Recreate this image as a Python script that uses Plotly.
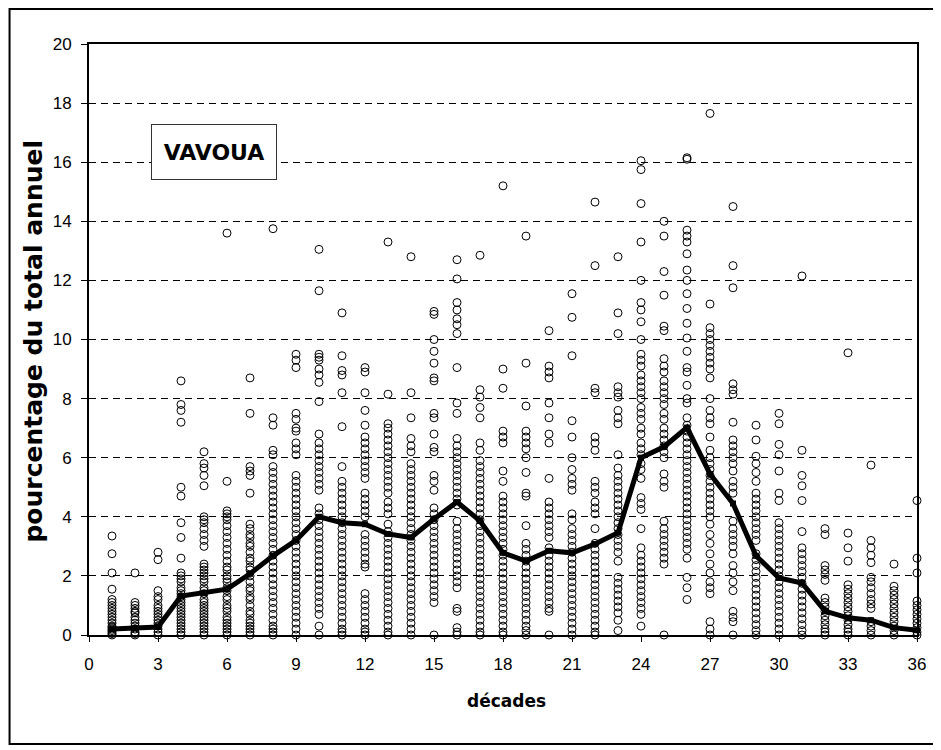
import plotly.graph_objects as go

# values per decade (percentage of annual total)
d01 = [3.35, 2.75, 2.1, 1.55, 1.2, 1.1, 1.0, 0.9, 0.8, 0.7, 0.6, 0.5, 0.4, 0.3, 0.25, 0.2, 0.15, 0.1, 0.05, 0]
d02 = [2.1, 1.1, 1.0, 0.9, 0.8, 0.75, 0.6, 0.5, 0.4, 0.3, 0.2, 0.1, 0.05, 0]
d03 = [2.8, 2.55, 1.5, 1.3, 1.2, 1.0, 0.9, 0.8, 0.7, 0.6, 0.5, 0.4, 0.3, 0.2, 0.1, 0]
d04 = [8.6, 7.8, 7.6, 7.2, 5.0, 4.7, 3.8, 3.3, 2.6, 2.1, 2.0, 1.9, 1.8, 1.6, 1.5, 1.4, 1.3, 1.2, 1.1, 1.0, 0.9, 0.8, 0.7, 0.6, 0.5, 0.4, 0.3, 0.2, 0.1, 0]
d05 = [6.2, 5.8, 5.65, 5.4, 5.05, 4.0, 3.9, 3.8, 3.6, 3.4, 3.2, 3.0, 2.4, 2.3, 2.2, 2.1, 2.0, 1.9, 1.8, 1.6, 1.5, 1.4, 1.2, 1.1, 1.0, 0.9, 0.8, 0.7, 0.6, 0.5, 0.4, 0.3, 0.2, 0.1, 0.0]
d06 = [13.6, 5.2, 4.2, 4.1, 4.0, 3.9, 3.7, 3.5, 3.3, 3.1, 2.9, 2.7, 2.5, 2.3, 2.2, 2.0, 1.9, 1.8, 1.6, 1.5, 1.3, 1.2, 1.0, 0.9, 0.8, 0.6, 0.5, 0.4, 0.3, 0.2, 0.1, 0]
d07 = [8.7, 7.5, 5.7, 5.55, 5.4, 4.8, 3.75, 3.6, 3.4, 3.3, 3.1, 3.0, 2.8, 2.6, 2.5, 2.3, 2.2, 2.0, 1.8, 1.6, 1.5, 1.3, 1.2, 1.0, 0.8, 0.7, 0.5, 0.4, 0.3, 0.2, 0.1, 0]
d08 = [13.75, 7.35, 7.1, 6.25, 6.1, 5.7, 5.5, 5.3, 5.1, 4.9, 4.7, 4.5, 4.3, 4.1, 3.9, 3.7, 3.5, 3.3, 3.1, 2.9, 2.7, 2.5, 2.3, 2.1, 1.9, 1.7, 1.5, 1.3, 1.1, 0.9, 0.7, 0.5, 0.3, 0.2, 0.1, 0]
d09 = [9.5, 9.3, 9.05, 7.5, 7.3, 7.0, 6.9, 6.5, 6.3, 6.1, 5.4, 5.2, 5.0, 4.8, 4.6, 4.4, 4.2, 4.0, 3.8, 3.6, 3.4, 3.2, 3.0, 2.8, 2.6, 2.4, 2.2, 2.0, 1.8, 1.6, 1.4, 1.2, 1.0, 0.8, 0.6, 0.4, 0.2, 0]
d10 = [13.05, 11.65, 9.5, 9.4, 9.3, 9.0, 8.8, 8.55, 7.9, 6.8, 6.5, 6.3, 6.1, 5.9, 5.7, 5.5, 5.3, 5.1, 4.9, 4.3, 4.1, 3.9, 3.7, 3.5, 3.3, 3.1, 2.9, 2.7, 2.5, 2.3, 2.1, 1.9, 1.7, 1.5, 1.3, 1.1, 0.9, 0.7, 0.3, 0]
d11 = [10.9, 9.45, 8.95, 8.8, 8.2, 7.05, 5.7, 5.2, 5.0, 4.8, 4.6, 4.4, 4.2, 4.0, 3.8, 3.6, 3.4, 3.2, 3.0, 2.8, 2.6, 2.4, 2.2, 2.0, 1.8, 1.6, 1.4, 1.2, 1.0, 0.8, 0.6, 0.4, 0.2, 0.1, 0]
d12 = [9.05, 8.9, 8.2, 7.6, 7.1, 6.7, 6.5, 6.3, 6.1, 5.9, 5.7, 5.5, 5.3, 4.8, 4.6, 4.4, 4.2, 4.0, 3.4, 3.2, 3.0, 2.8, 2.6, 2.4, 2.3, 1.4, 1.2, 1.0, 0.8, 0.6, 0.4, 0.2, 0.1, 0]
d13 = [13.3, 8.15, 7.15, 7.0, 6.8, 6.6, 6.4, 6.2, 6.0, 5.8, 5.6, 5.4, 5.2, 5.0, 4.8, 4.5, 4.3, 4.1, 3.75, 3.5, 3.3, 3.1, 2.9, 2.7, 2.5, 2.3, 2.1, 1.9, 1.7, 1.5, 1.3, 1.1, 0.9, 0.7, 0.5, 0.3, 0.1, 0]
d14 = [12.8, 8.2, 7.35, 6.65, 6.4, 6.2, 5.8, 5.6, 5.4, 5.2, 5.0, 4.8, 4.6, 4.4, 4.2, 4.0, 3.8, 3.6, 3.4, 3.2, 3.0, 2.8, 2.6, 2.4, 2.2, 2.0, 1.8, 1.6, 1.4, 1.2, 1.0, 0.8, 0.6, 0.4, 0.2, 0]
d15 = [10.95, 10.85, 10.0, 9.6, 9.2, 8.7, 8.6, 7.5, 7.35, 6.8, 6.35, 6.2, 5.4, 5.2, 4.9, 4.3, 4.1, 3.9, 3.7, 3.5, 3.3, 3.1, 2.9, 2.7, 2.5, 2.3, 2.1, 1.9, 1.7, 1.5, 1.3, 1.1, 0]
d16 = [12.7, 12.05, 11.25, 11.0, 10.7, 10.5, 10.2, 9.05, 7.85, 7.5, 6.65, 6.4, 6.2, 6.0, 5.8, 5.6, 5.4, 5.2, 5.0, 4.8, 4.6, 4.4, 3.85, 3.6, 3.4, 3.2, 3.0, 2.8, 2.6, 2.4, 2.2, 2.0, 1.8, 1.6, 0.9, 0.8, 0.25, 0.1, 0]
d17 = [12.85, 8.3, 8.05, 7.7, 7.35, 6.5, 6.25, 5.9, 5.7, 5.5, 5.3, 5.1, 4.9, 4.7, 4.5, 4.3, 4.1, 3.9, 3.7, 3.5, 3.3, 3.1, 2.9, 2.7, 2.5, 2.3, 2.1, 1.9, 1.7, 1.5, 1.3, 1.1, 0.9, 0.7, 0.5, 0.3, 0.1, 0]
d18 = [15.2, 9.0, 8.35, 6.9, 6.7, 6.5, 5.55, 5.2, 4.7, 4.5, 4.3, 4.1, 3.9, 3.7, 3.5, 3.3, 3.1, 2.9, 2.7, 2.5, 2.3, 2.1, 1.9, 1.7, 1.5, 1.3, 1.1, 0.9, 0.7, 0.5, 0.3, 0.1, 0]
d19 = [13.5, 9.2, 7.75, 6.9, 6.7, 6.5, 6.3, 6.0, 5.5, 4.8, 4.7, 3.7, 3.1, 2.9, 2.7, 2.5, 2.3, 2.1, 1.9, 1.7, 1.5, 1.3, 1.1, 0.9, 0.7, 0.5, 0.3, 0.15, 0]
d20 = [10.3, 9.1, 8.9, 8.7, 7.85, 7.35, 6.8, 6.5, 5.3, 4.5, 4.3, 4.1, 3.9, 3.7, 3.5, 3.3, 2.95, 2.7, 2.5, 2.3, 2.1, 1.9, 1.7, 1.5, 1.3, 1.1, 0.9, 0.8, 0]
d21 = [11.55, 10.75, 9.45, 7.25, 6.7, 6.0, 5.6, 5.3, 5.1, 4.9, 4.1, 3.9, 3.6, 3.4, 3.2, 3.0, 2.8, 2.6, 2.4, 2.2, 2.0, 1.8, 1.6, 1.4, 1.2, 1.0, 0.8, 0.6, 0.4, 0.2, 0]
d22 = [14.65, 12.5, 8.35, 8.2, 6.7, 6.5, 6.25, 5.2, 5.0, 4.8, 4.5, 4.3, 4.1, 3.6, 3.1, 2.9, 2.7, 2.5, 2.3, 2.1, 1.9, 1.7, 1.5, 1.3, 1.1, 0.9, 0.7, 0.5, 0.3, 0.1, 0]
d23 = [12.8, 10.9, 10.2, 8.4, 8.2, 8.05, 7.6, 7.35, 7.15, 6.1, 5.65, 5.4, 5.2, 5.0, 4.8, 4.6, 4.4, 4.2, 4.0, 3.8, 3.6, 3.4, 3.2, 3.0, 2.8, 2.5, 1.95, 1.75, 1.55, 1.35, 1.15, 0.95, 0.75, 0.5, 0.15]
d24 = [16.05, 15.75, 14.6, 13.3, 12.0, 11.25, 11.0, 10.6, 10.0, 9.5, 9.3, 9.1, 8.8, 8.6, 8.4, 8.2, 8.0, 7.7, 7.5, 7.3, 7.0, 6.8, 6.5, 6.3, 6.1, 5.8, 5.6, 5.3, 4.65, 4.45, 4.25, 3.6, 2.95, 2.7, 2.5, 2.3, 2.1, 1.9, 1.7, 1.5, 1.3, 1.1, 0.9, 0.7, 0.3]
d25 = [14.0, 13.5, 12.3, 11.5, 10.45, 10.3, 9.35, 9.1, 8.9, 8.6, 8.4, 8.2, 8.0, 7.8, 7.5, 7.3, 7.0, 6.8, 6.6, 6.4, 6.2, 6.0, 5.45, 5.2, 5.0, 3.85, 3.6, 3.4, 3.2, 3.0, 2.8, 2.6, 2.4, 0]
d26 = [16.15, 16.1, 13.7, 13.5, 13.3, 12.9, 12.35, 12.0, 11.55, 11.05, 10.55, 10.05, 9.6, 9.05, 8.9, 8.45, 8.0, 7.85, 7.35, 7.1, 6.9, 6.7, 6.5, 6.3, 6.1, 5.9, 5.7, 5.5, 5.3, 5.1, 4.9, 4.7, 4.5, 4.3, 4.1, 3.9, 3.7, 3.5, 3.3, 3.1, 2.9, 2.6, 1.95, 1.6, 1.2]
d27 = [17.65, 11.2, 10.4, 10.2, 10.0, 9.8, 9.6, 9.4, 9.2, 9.0, 8.7, 8.0, 7.6, 7.35, 7.15, 6.7, 6.25, 6.0, 5.8, 5.6, 5.4, 5.2, 5.0, 4.8, 4.6, 4.4, 4.2, 4.0, 3.75, 3.4, 3.1, 2.75, 2.4, 2.1, 1.8, 1.6, 1.4, 0.45, 0.2, 0]
d28 = [14.5, 12.5, 11.75, 8.5, 8.3, 8.15, 7.2, 6.6, 6.4, 6.2, 6.0, 5.8, 5.55, 5.2, 5.0, 4.8, 3.85, 3.6, 3.4, 3.2, 3.0, 2.75, 2.35, 2.1, 1.8, 1.5, 0.8, 0.6, 0.45, 0]
d29 = [7.1, 6.6, 6.05, 5.8, 5.5, 5.2, 4.8, 4.6, 4.4, 4.2, 4.0, 3.8, 3.6, 3.4, 3.2, 2.75, 2.55, 2.35, 2.15, 1.95, 1.75, 1.55, 1.35, 1.15, 0.95, 0.75, 0.55, 0.35, 0.15, 0]
d30 = [7.5, 7.15, 6.45, 6.1, 5.55, 4.8, 4.55, 3.8, 3.6, 3.4, 3.2, 3.0, 2.8, 2.6, 2.4, 2.2, 2.0, 1.8, 1.6, 1.4, 1.2, 1.0, 0.8, 0.6, 0.4, 0.2, 0]
d31 = [12.15, 6.25, 5.4, 5.05, 4.55, 3.5, 2.95, 2.75, 2.55, 2.35, 2.15, 1.95, 1.75, 1.55, 1.35, 1.15, 0.95, 0.75, 0.55, 0.35, 0.15, 0]
d32 = [3.6, 3.4, 2.35, 2.2, 2.05, 1.85, 1.25, 1.1, 0.95, 0.8, 0.65, 0.5, 0.35, 0.2, 0.1, 0]
d33 = [9.55, 3.45, 2.95, 2.5, 1.7, 1.55, 1.4, 1.25, 1.1, 0.95, 0.8, 0.65, 0.5, 0.35, 0.2, 0.1, 0]
d34 = [5.75, 3.2, 2.95, 2.7, 2.45, 1.95, 1.8, 1.6, 1.4, 1.2, 1.05, 0.9, 0.45, 0.3, 0.15, 0]
d35 = [2.4, 1.65, 1.5, 1.35, 1.2, 1.05, 0.9, 0.75, 0.6, 0.45, 0.3, 0.15, 0]
d36 = [4.55, 2.6, 2.1, 1.15, 1.0, 0.85, 0.7, 0.55, 0.4, 0.25, 0.1, 0]

# mean curve (black line)
moyenne = [0.2, 0.24, 0.27, 1.32, 1.42, 1.55, 2.07, 2.68, 3.2, 4.0, 3.8, 3.75, 3.42, 3.3, 3.93, 4.5,
           3.86, 2.78, 2.5, 2.85, 2.78, 3.08, 3.46, 6.0, 6.37, 7.02, 5.45, 4.45, 2.68, 1.93, 1.76,
           0.81, 0.58, 0.5, 0.25, 0.16]

decades = list(range(1, 37))
x_ticks = list(range(0, 37, 3))
y_ticks = list(range(0, 21, 2))

columns = [d01, d02, d03, d04, d05, d06, d07, d08, d09, d10, d11, d12, d13, d14, d15, d16, d17, d18,
           d19, d20, d21, d22, d23, d24, d25, d26, d27, d28, d29, d30, d31, d32, d33, d34, d35, d36]

xs, ys = [], []
for dec, vals in zip(decades, columns):
    for v in vals:
        xs.append(dec)
        ys.append(v)

FONT = "Liberation Sans, Arial, sans-serif"
BOLD = "DejaVu Sans, Liberation Sans, sans-serif"

# page geometry (the page body has an 8px margin)
OFF = 8
PL, PR, PT, PB = 88.5, 917.0, 44.0, 635.0   # plot area in page pixels
W, H = 941 - OFF, 750 - OFF


def px(x):
    return (x - PL) / (PR - PL)


def py(y):
    return (PB - y) / (PB - PT)


fig = go.Figure()
fig.add_trace(go.Scatter(
    x=xs, y=ys, mode="markers",
    marker=dict(symbol="circle-open", size=8, color="black", line=dict(width=1, color="black")),
    cliponaxis=False, showlegend=False, hoverinfo="x+y"))
fig.add_trace(go.Scatter(
    x=decades, y=moyenne, mode="lines+markers",
    line=dict(color="black", width=5),
    marker=dict(symbol="square", size=6, color="black"),
    cliponaxis=False, showlegend=False))

fig.update_layout(
    width=W, height=H,
    margin=dict(l=PL - OFF, r=OFF + W - PR, t=PT - OFF, b=OFF + H - PB),
    paper_bgcolor="white", plot_bgcolor="white",
    font=dict(family=FONT, color="black", size=17),
    xaxis=dict(range=[0, 36], tickvals=x_ticks, ticktext=[str(t) for t in x_ticks],
               showgrid=False, zeroline=False, showline=True, linecolor="black", linewidth=2,
               mirror=True, ticks="outside", ticklen=5, tickcolor="black", tickwidth=1,
               tickfont=dict(size=17, color="black", family=FONT), ticklabelstandoff=8),
    yaxis=dict(range=[0, 20], tickvals=y_ticks, ticktext=[str(t) for t in y_ticks],
               showgrid=True, gridcolor="black", gridwidth=1, griddash="7px,5px",
               zeroline=False, showline=True, linecolor="black", linewidth=2, mirror=True,
               ticks="outside", ticklen=6, tickcolor="black", tickwidth=1,
               tickfont=dict(size=17, color="black", family=FONT), ticklabelstandoff=6),
)

# outer chart border
fig.add_shape(type="rect", xref="paper", yref="paper",
              x0=px(9), x1=px(935), y0=py(744), y1=py(9),
              line=dict(color="black", width=2), fillcolor="rgba(0,0,0,0)", layer="below")

# axis titles
fig.add_annotation(xref="paper", yref="paper", x=px(32), y=py(341),
                   text="<b>pourcentage du total annuel</b>", textangle=-90, showarrow=False,
                   font=dict(size=25, family=BOLD, color="black"),
                   xanchor="center", yanchor="middle")
fig.add_annotation(xref="paper", yref="paper", x=px(506), y=py(701),
                   text="<b>décades</b>", showarrow=False,
                   font=dict(size=17, family=BOLD, color="black"),
                   xanchor="center", yanchor="middle")

# station label box
fig.add_annotation(xref="paper", yref="paper", x=px(214), y=py(152),
                   text="<b>VAVOUA</b>", showarrow=False,
                   font=dict(size=22, family=BOLD, color="black"),
                   bgcolor="white", bordercolor="#333", borderwidth=1,
                   width=122, height=52, xanchor="center", yanchor="middle")

fig.write_html("out.html")
